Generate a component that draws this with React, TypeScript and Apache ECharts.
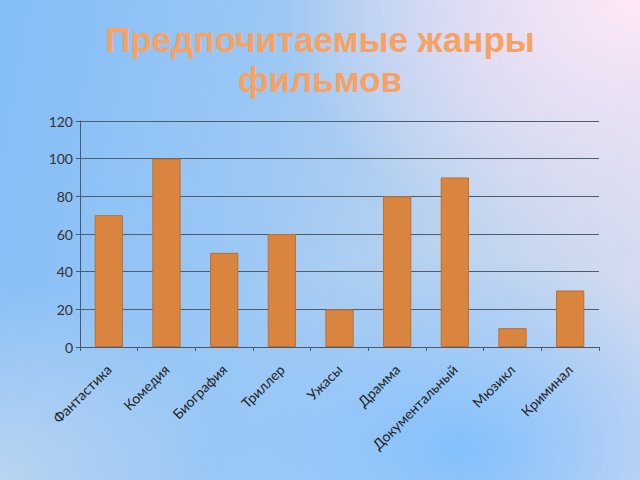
import React, { useEffect, useRef } from "react";
import * as echarts from "echarts";

const titleLines = ["Предпочитаемые жанры", "фильмов"];
const categories = [
  "Фантастика",
  "Комедия",
  "Биография",
  "Триллер",
  "Ужасы",
  "Драмма",
  "Документальный",
  "Мюзикл",
  "Криминал",
];
const values = [70, 100, 50, 60, 20, 80, 90, 10, 30];
const yMin = 0;
const yMax = 120;
const yStep = 20;

export default function App() {
  const ref = useRef<HTMLDivElement>(null);
  useEffect(() => {
    if (!ref.current) return;
    const chart = echarts.init(ref.current, null, { renderer: "svg" });
    const axisColor = "#4a5868";
    chart.setOption({
      animation: false,
      backgroundColor: "transparent",
      title: {
        text: titleLines.join("\n"),
        left: "center",
        top: 14,
        textStyle: {
          color: "#F7A262",
          fontFamily: "Liberation Sans, Arial, sans-serif",
          fontWeight: "bold",
          fontSize: 35,
          lineHeight: 40,
        },
      },
      grid: { left: 80, right: 41, top: 121, bottom: 133, containLabel: false },
      xAxis: {
        type: "category",
        data: categories,
        axisLine: { lineStyle: { color: axisColor, width: 1 } },
        axisTick: { show: true, length: 4, lineStyle: { color: axisColor } },
        axisLabel: {
          rotate: 45,
          interval: 0,
          color: "#222",
          fontFamily: "Lato, sans-serif",
          fontSize: 14,
          margin: 20,
        },
      },
      yAxis: {
        type: "value",
        min: yMin,
        max: yMax,
        interval: yStep,
        axisLine: { show: true, lineStyle: { color: axisColor, width: 1 } },
        axisTick: { show: true, length: 4, lineStyle: { color: axisColor } },
        axisLabel: {
          color: "#333",
          fontFamily: "Lato, sans-serif",
          fontSize: 14,
          margin: 7,
        },
        splitLine: { lineStyle: { color: "#4e5c6c", width: 1 } },
      },
      series: [
        {
          type: "bar",
          data: values,
          barWidth: "49%",
          itemStyle: {
            color: "#D98540",
            borderColor: "#B9712F",
            borderWidth: 1,
          },
        },
      ],
    });
    return () => chart.dispose();
  }, []);
  return (
    <div
      style={{
        position: "absolute",
        left: 0,
        top: 0,
        width: 640,
        height: 480,
        background:
          "radial-gradient(ellipse 360px 260px at 640px 0px, rgba(253,232,248,1) 0%, rgba(240,226,245,0.85) 35%, rgba(220,225,240,0) 100%)," +
          "radial-gradient(ellipse 300px 200px at 460px 450px, rgba(125,190,255,0.9) 0%, rgba(125,190,255,0) 100%)," +
          "radial-gradient(ellipse 220px 200px at 0px 480px, rgba(190,215,240,0.9) 0%, rgba(190,215,240,0) 100%)," +
          "linear-gradient(100deg, #84bdf8 0%, #9cc8f4 40%, #c4d6ee 75%, #d8dcf0 100%)",
      }}
    >
      <div ref={ref} style={{ width: 640, height: 480 }} />
    </div>
  );
}
